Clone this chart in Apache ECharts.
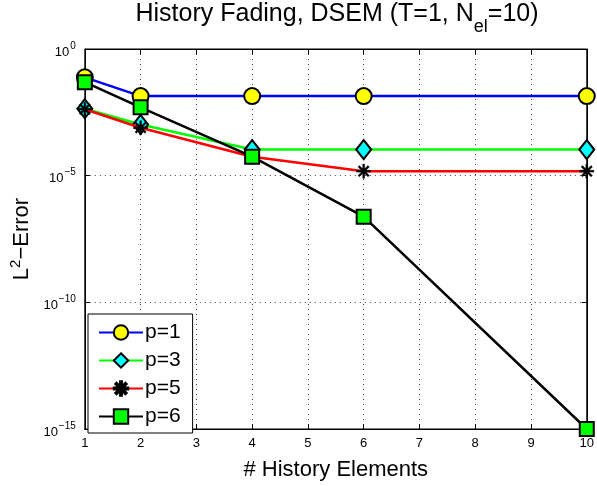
<!DOCTYPE html>
<html>
<head>
<meta charset="utf-8">
<script src="https://cdn.jsdelivr.net/npm/echarts@6/dist/echarts.min.js"></script>
<style>
  html, body { margin: 0; padding: 0; background: #fff; }
  #chart { width: 597px; height: 486px; }
</style>
</head>
<body>
<div id="chart"></div>
<script>
// Number of history elements retained
const historyElements = [1, 2, 4, 6, 10];

// L2 error for each polynomial order
const errP1 = [7.6e-2, 1.38e-2, 1.38e-2, 1.38e-2, 1.38e-2];
const errP3 = [4.4e-3, 1.05e-3, 1.07e-4, 1.07e-4, 1.07e-4];
const errP5 = [4.2e-3, 7.8e-4, 5.6e-5, 1.5e-5, 1.5e-5];
const errP6 = [4.9e-2, 5.0e-3, 5.6e-5, 2.4e-7, 1.0e-15];

const seriesNames = ['p=1', 'p=3', 'p=5', 'p=6'];

const xTicks = [1, 2, 3, 4, 5, 6, 7, 8, 9, 10];
const yTickExponents = [0, -5, -10, -15];

const FONT = '"Liberation Sans", Arial, Helvetica, sans-serif';

// asterisk marker: four bars at 0, 45, 90 and 135 degrees, all wound the same way
const STAR = 'path://M-10,-1.3L10,-1.3L10,1.3L-10,1.3Z' +
  'M-1.3,-10L1.3,-10L1.3,10L-1.3,10Z' +
  'M-7.99,-6.15L-6.15,-7.99L7.99,6.15L6.15,7.99Z' +
  'M-6.15,7.99L-7.99,6.15L6.15,-7.99L7.99,-6.15Z';

function pairs(ys) {
  return historyElements.map((x, i) => [x, ys[i]]);
}

function superLabel(exp) {
  const e = exp === 0 ? '0' : '\u2212' + Math.abs(exp);
  return '{b|10}{s|' + e + '}';
}

const chart = echarts.init(document.getElementById('chart'), null, { renderer: 'canvas' });

const dotted = { type: [1, 4], color: '#444', width: 1 };

const option = {
  backgroundColor: '#fff',
  animation: false,
  textStyle: { fontFamily: FONT },
  grid: { left: 82, right: 4, top: 49, bottom: 48, show: true, borderColor: '#000', borderWidth: 1, containLabel: false },
  graphic: [
    {
      type: 'text',
      x: 337,
      y: 2,
      style: {
        text: '{a|History Fading, DSEM (T=1, N}{sub|el}{a|=10)}',
        align: 'center',
        fill: '#000',
        rich: {
          a: { fontSize: 25, fontFamily: FONT, fill: '#000', verticalAlign: 'top' },
          sub: { fontSize: 18, fontFamily: FONT, fill: '#000', padding: [16, 0, 0, 0], verticalAlign: 'top' }
        }
      }
    }
  ],
  legend: {
    orient: 'vertical',
    left: 88,
    top: 314,
    padding: [8, 12, 6, 10],
    itemWidth: 44,
    itemHeight: 18,
    itemGap: 7,
    backgroundColor: '#fff',
    borderColor: '#000',
    borderWidth: 1,
    borderRadius: 0,
    textStyle: { fontSize: 21, lineHeight: 19, color: '#000', fontFamily: FONT, padding: [0, 0, 0, -3] },
    data: seriesNames
  },
  xAxis: [
    {
      type: 'value',
      min: 1,
      max: 10,
      interval: 1,
      position: 'bottom',
      name: '# History Elements',
      nameLocation: 'middle',
      nameGap: 30,
      nameTextStyle: { fontSize: 22, color: '#000', fontFamily: FONT },
      axisLine: { show: true, lineStyle: { color: '#000', width: 1 } },
      axisTick: { show: true, inside: true, length: 5, lineStyle: { color: '#000' } },
      axisLabel: {
        fontSize: 13, color: '#000', margin: 8, fontFamily: FONT,
        formatter: v => (xTicks.indexOf(v) >= 0 ? String(v) : '')
      },
      splitLine: { show: true, lineStyle: dotted }
    },
    {
      type: 'value',
      min: 1,
      max: 10,
      interval: 1,
      position: 'top',
      axisLine: { show: true, lineStyle: { color: '#000', width: 1 } },
      axisTick: { show: true, inside: true, length: 5, lineStyle: { color: '#000' } },
      axisLabel: { show: false },
      splitLine: { show: false }
    }
  ],
  yAxis: [
    {
      type: 'log',
      logBase: 10,
      min: 1e-15,
      max: 1,
      interval: 5,
      splitNumber: 3,
      position: 'left',
      name: '{t|L}{sup|2}{t|\u2212Error}',
      nameLocation: 'middle',
      nameRotate: 90,
      nameGap: 30,
      nameTextStyle: {
        color: '#000',
        rich: {
          t: { fontSize: 22, fontFamily: FONT, color: '#000' },
          sup: { fontSize: 15, fontFamily: FONT, color: '#000', padding: [0, 0, 12, 0] }
        }
      },
      axisLine: { show: true, lineStyle: { color: '#000', width: 1 } },
      axisTick: { show: true, inside: true, length: 5, lineStyle: { color: '#000' } },
      axisLabel: {
        margin: 9,
        formatter: v => {
          const e = Math.round(Math.log10(v));
          return yTickExponents.indexOf(e) >= 0 ? superLabel(e) : '';
        },
        rich: {
          b: { fontSize: 13, fontFamily: FONT, color: '#000', padding: [6, 0, 0, 0] },
          s: { fontSize: 10, fontFamily: FONT, color: '#000', padding: [0, 0, 6, 1] }
        }
      },
      splitLine: { show: true, lineStyle: dotted }
    },
    {
      type: 'log',
      logBase: 10,
      min: 1e-15,
      max: 1,
      interval: 5,
      splitNumber: 3,
      position: 'right',
      axisLine: { show: true, lineStyle: { color: '#000', width: 1 } },
      axisTick: { show: true, inside: true, length: 5, lineStyle: { color: '#000' } },
      axisLabel: { show: false },
      splitLine: { show: false }
    }
  ],
  series: [
    {
      name: seriesNames[0], type: 'line', data: pairs(errP1),
      symbol: 'circle', symbolSize: 16,
      lineStyle: { color: '#0000ff', width: 2.5 },
      itemStyle: { color: '#ffff00', borderColor: '#000', borderWidth: 2 },
      z: 2
    },
    {
      name: seriesNames[1], type: 'line', data: pairs(errP3),
      symbol: 'diamond', symbolSize: [15, 19],
      lineStyle: { color: '#00ff00', width: 2.5 },
      itemStyle: { color: '#00ffff', borderColor: '#000', borderWidth: 2 },
      z: 3
    },
    {
      name: seriesNames[2], type: 'line', data: pairs(errP5),
      symbol: STAR, symbolSize: 14,
      lineStyle: { color: '#ff0000', width: 2.5 },
      itemStyle: { color: '#000', borderColor: '#000', borderWidth: 0.5 },
      z: 4
    },
    {
      name: seriesNames[3], type: 'line', data: pairs(errP6),
      symbol: 'rect', symbolSize: 14,
      lineStyle: { color: '#000', width: 2.5 },
      itemStyle: { color: '#00ff00', borderColor: '#000', borderWidth: 2 },
      z: 5
    }
  ]
};

chart.setOption(option);
</script>
</body>
</html>
